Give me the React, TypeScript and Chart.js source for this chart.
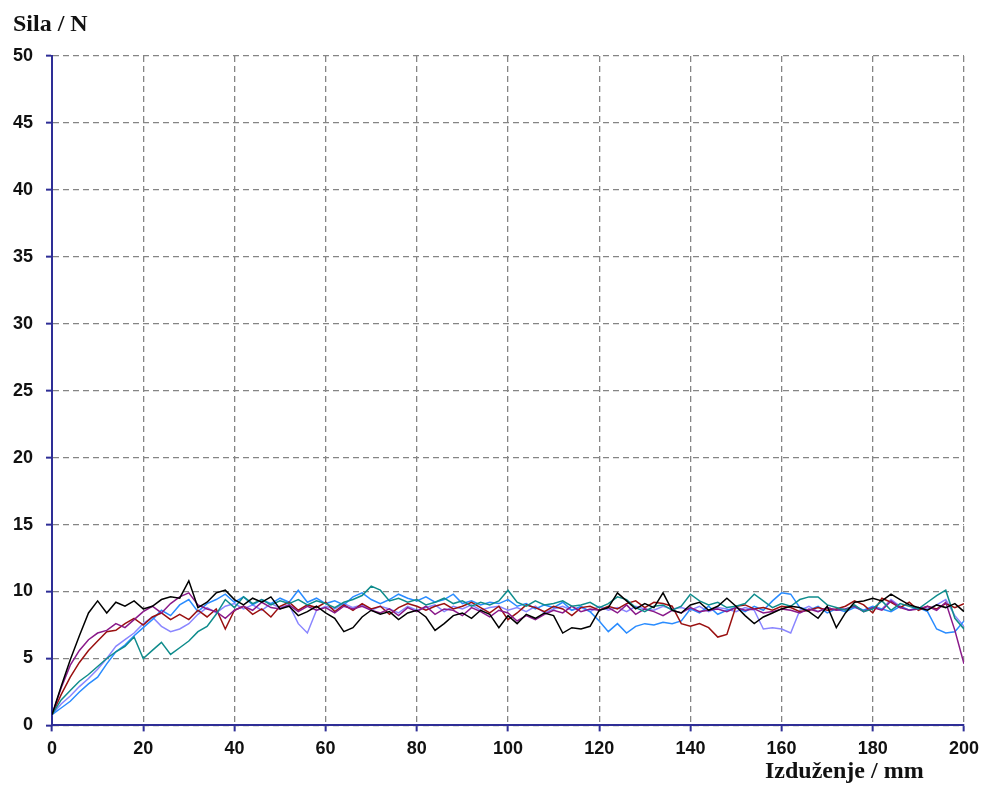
import React, { useEffect, useRef } from "react";
import { Chart, registerables } from "chart.js";

Chart.register(...registerables);

const xValues = [
  0, 2, 4, 6, 8, 10, 12, 14, 16, 18, 20, 22, 24, 26, 28, 30, 32, 34, 36, 38,
  40, 42, 44, 46, 48, 50, 52, 54, 56, 58, 60, 62, 64, 66, 68, 70, 72, 74, 76, 78,
  80, 82, 84, 86, 88, 90, 92, 94, 96, 98, 100, 102, 104, 106, 108, 110, 112, 114, 116, 118,
  120, 122, 124, 126, 128, 130, 132, 134, 136, 138, 140, 142, 144, 146, 148, 150, 152, 154, 156, 158,
  160, 162, 164, 166, 168, 170, 172, 174, 176, 178, 180, 182, 184, 186, 188, 190, 192, 194, 196, 198,
  200,
];

const blackSeries = [
  0.8, 2.9, 4.9, 6.7, 8.4, 9.3, 8.4, 9.2, 8.9, 9.3, 8.7, 8.9, 9.4, 9.6, 9.5, 10.8, 8.8, 9.2, 9.9, 10.1,
  9.4, 9.0, 9.5, 9.2, 9.6, 8.7, 8.9, 8.2, 8.5, 8.9, 8.4, 8.0, 7.0, 7.3, 8.1, 8.6, 8.3, 8.5, 7.9, 8.4,
  8.6, 8.1, 7.1, 7.6, 8.2, 8.4, 8.0, 8.6, 8.3, 7.3, 8.2, 7.6, 8.3, 8.0, 8.4, 8.2, 6.9, 7.3, 7.2, 7.4,
  8.6, 8.8, 9.9, 9.3, 8.7, 9.1, 8.8, 9.9, 8.6, 8.4, 9.0, 9.2, 8.6, 8.9, 9.5, 8.9, 8.2, 7.6, 8.1, 8.4,
  8.7, 8.9, 8.8, 8.5, 8.0, 8.9, 7.3, 8.4, 9.2, 9.3, 9.5, 9.3, 9.8, 9.4, 9.0, 8.8, 8.6, 9.0, 8.8, 9.1,
  8.5,
];

const darkRedSeries = [
  0.8, 2.3, 3.6, 4.7, 5.6, 6.3, 7.0, 7.1, 7.6, 8.0, 7.5, 8.1, 8.4, 7.9, 8.3, 7.9, 8.6, 8.1, 8.7, 7.2,
  8.6, 8.9, 8.3, 8.7, 8.1, 8.9, 9.2, 8.6, 9.0, 8.8, 9.2, 8.5, 9.0, 8.6, 9.1, 8.7, 8.9, 8.3, 8.8, 9.1,
  8.9, 8.6, 8.9, 9.1, 8.7, 8.9, 9.2, 8.8, 8.4, 8.9, 7.9, 8.4, 9.0, 8.8, 8.5, 8.9, 8.7, 8.2, 8.8, 8.9,
  8.6, 8.9, 8.7, 9.1, 9.3, 8.8, 9.2, 9.1, 8.9, 7.6, 7.4, 7.6, 7.3, 6.6, 6.8, 8.9, 9.0, 8.7, 8.8, 8.6,
  8.9, 8.8, 8.5, 8.6, 8.8, 8.6, 8.7, 8.9, 9.3, 9.0, 8.4, 9.5, 9.2, 8.8, 9.2, 8.6, 8.9, 8.7, 9.1, 8.8,
  9.1,
];

const purpleSeries = [
  0.8, 2.8, 4.5, 5.6, 6.4, 6.9, 7.1, 7.6, 7.3, 7.9, 8.5, 8.9, 8.4, 9.1, 9.6, 9.9, 9.0, 8.7, 8.5, 8.0,
  8.6, 8.9, 8.6, 9.2, 8.8, 8.7, 9.0, 8.5, 8.9, 8.6, 8.8, 8.4, 8.9, 8.7, 8.9, 8.6, 8.4, 8.7, 8.2, 8.8,
  8.5, 8.9, 8.3, 8.7, 8.6, 8.2, 8.8, 8.5, 8.1, 8.6, 8.4, 7.8, 8.2, 7.9, 8.3, 8.6, 8.4, 8.9, 8.5, 8.7,
  8.6, 8.8, 8.4, 9.0, 8.3, 8.7, 8.5, 8.2, 8.6, 8.4, 8.8, 8.5, 8.6, 8.7, 8.5, 8.8, 8.6, 8.7, 8.4, 8.5,
  8.7, 8.6, 8.4, 8.7, 8.5, 8.8, 8.6, 8.7, 8.9, 8.5, 8.8, 8.6, 9.3, 8.8, 8.6, 8.7, 8.9, 8.6, 9.2, 7.1,
  4.6,
];

const tealSeries = [
  0.8, 1.9, 2.6, 3.3, 3.8, 4.4, 5.0, 5.5, 5.9, 6.6, 5.0, 5.6, 6.2, 5.3, 5.8, 6.3, 7.0, 7.4, 8.3, 9.4,
  8.8, 9.6, 9.1, 9.4, 9.0, 9.3, 9.1, 9.4, 9.0, 9.3, 9.1, 8.8, 9.2, 9.4, 9.7, 10.4, 10.1, 9.3, 9.5, 9.2,
  9.4, 9.0, 9.2, 9.5, 9.1, 9.3, 8.9, 9.2, 9.0, 9.3, 10.1, 9.2, 8.9, 9.3, 9.0, 9.1, 9.3, 8.9, 9.0, 9.2,
  8.8, 9.1, 9.6, 9.4, 8.8, 8.5, 8.9, 9.0, 8.6, 8.9, 9.8, 9.3, 9.0, 9.2, 8.8, 8.9, 9.1, 9.8, 9.3, 8.8,
  9.1, 8.9, 9.4, 9.6, 9.6, 9.0, 8.8, 8.6, 9.0, 8.5, 8.7, 9.3, 8.6, 9.1, 8.9, 8.7, 9.2, 9.7, 10.1, 8.0,
  7.2,
];

const lightBlueSeries = [
  0.8, 1.3, 1.8, 2.5, 3.1, 3.6, 4.6, 5.5, 6.0, 6.7, 7.3, 7.9, 8.6, 8.2, 9.0, 9.4, 8.5, 9.1, 9.4, 9.8,
  9.2, 9.6, 9.0, 9.4, 9.1, 9.5, 9.2, 10.1, 9.2, 9.5, 9.1, 9.3, 9.0, 9.6, 9.9, 9.4, 9.1, 9.4, 9.8, 9.5,
  9.3, 9.6, 9.2, 9.4, 9.8, 9.1, 9.3, 9.0, 9.2, 9.1, 9.4, 8.9, 9.1, 8.7, 9.0, 8.8, 9.2, 8.6, 8.9, 8.5,
  7.8, 7.0, 7.6, 6.9, 7.4, 7.6, 7.5, 7.7, 7.6, 7.8, 8.7, 8.4, 8.9, 8.3, 8.6, 8.8, 8.5, 8.9, 8.6, 9.3,
  9.9, 9.8, 8.8, 8.6, 8.9, 8.4, 8.7, 8.5, 8.8, 8.6, 8.9, 8.7, 8.5, 8.9, 8.6, 8.8, 8.5, 7.2, 6.9, 7.0,
  7.8,
];

const periwinkleSeries = [
  0.8, 1.6, 2.2, 2.9, 3.5, 4.2, 5.0, 5.9, 6.4, 6.9, 7.6, 8.1, 7.4, 7.0, 7.2, 7.6, 8.3, 8.8, 8.4, 8.9,
  9.1, 8.7, 9.0, 8.6, 9.1, 8.8, 9.0, 7.6, 6.9, 8.6, 8.9, 8.7, 9.1, 8.8, 9.0, 8.6, 8.9, 8.7, 8.4, 8.9,
  8.6, 8.8, 9.0, 8.5, 8.9, 8.7, 9.0, 8.6, 8.8, 8.9, 8.6, 8.8, 8.5, 8.9, 8.4, 8.7, 8.9, 8.6, 8.8, 8.5,
  8.9, 8.6, 8.8, 8.5, 8.9, 8.7, 8.6, 8.9, 8.7, 8.8, 8.6, 8.9, 8.5, 8.8, 8.7, 8.5, 8.8, 8.6, 7.2, 7.3,
  7.2, 6.9, 8.6, 8.9, 8.5, 8.8, 8.6, 8.7, 8.9, 8.6, 8.8, 8.7, 9.4, 8.9, 8.6, 8.8, 8.7, 9.0, 9.4, 8.2,
  7.4,
];

const seriesNames = ["Uzorak 1", "Uzorak 2", "Uzorak 3", "Uzorak 4", "Uzorak 5", "Uzorak 6"];
const seriesColors = ["#000000", "#0f8c8c", "#8a1a8a", "#9a1010", "#2a8cff", "#8a86ff"];
const seriesData = [blackSeries, tealSeries, purpleSeries, darkRedSeries, lightBlueSeries, periwinkleSeries];

const yTitle = "Sila / N";
const xTitle = "Izduženje / mm";

const AXIS_COLOR = "#2e2e96";
const GRID_COLOR = "#858585";

export default function App() {
  const canvasRef = useRef<HTMLCanvasElement | null>(null);

  useEffect(() => {
    const canvas = canvasRef.current;
    if (!canvas) return;

    const titlePlugin = {
      id: "axisTitles",
      afterDraw(chart: any) {
        const ctx = chart.ctx;
        ctx.save();
        ctx.fillStyle = "#111111";
        ctx.font = "bold 24px 'Liberation Serif', 'Times New Roman', serif";
        ctx.textBaseline = "alphabetic";
        ctx.textAlign = "left";
        ctx.fillText(yTitle, 13, 31);
        ctx.fillText(xTitle, 765, 778);
        ctx.restore();
      },
    };

    const tickFont = { family: "'Liberation Sans', Arial, sans-serif", size: 18, weight: "bold" };

    const chart = new Chart(canvas, {
      type: "line",
      data: {
        datasets: seriesData.map((arr, i) => ({
          label: seriesNames[i],
          data: arr.map((v, j) => ({ x: xValues[j], y: v })),
          borderColor: seriesColors[i],
          backgroundColor: seriesColors[i],
          borderWidth: 1.5,
          pointRadius: 0,
          tension: 0,
          fill: false,
        })),
      },
      options: {
        animation: false,
        responsive: false,
        maintainAspectRatio: false,
        layout: { padding: { left: 0, right: 12, top: 56, bottom: 19 } },
        plugins: {
          legend: { display: false },
          tooltip: { enabled: false },
          title: { display: false },
        },
        scales: {
          x: {
            type: "linear",
            min: 0,
            max: 200,
            ticks: {
              stepSize: 20,
              color: "#111111",
              padding: 7,
              maxRotation: 0,
              font: tickFont,
            },
            grid: {
              color: GRID_COLOR,
              lineWidth: 1.3,
              drawTicks: true,
              tickLength: 6,
              tickColor: AXIS_COLOR,
              tickWidth: 2,
            },
            border: { display: true, color: AXIS_COLOR, width: 2, dash: [6, 4] },
          },
          y: {
            type: "linear",
            min: 0,
            max: 50,
            ticks: {
              stepSize: 5,
              color: "#111111",
              padding: 13,
              font: tickFont,
            },
            grid: {
              color: GRID_COLOR,
              lineWidth: 1.3,
              drawTicks: true,
              tickLength: 6,
              tickColor: AXIS_COLOR,
              tickWidth: 2,
            },
            border: { display: true, color: AXIS_COLOR, width: 2, dash: [6, 4] },
          },
        },
      },
      plugins: [titlePlugin],
    } as any);

    return () => {
      chart.destroy();
    };
  }, []);

  return (
    <canvas
      ref={canvasRef}
      width={986}
      height={786}
      style={{ position: "absolute", left: 0, top: 0, display: "block", background: "#ffffff" }}
    />
  );
}
